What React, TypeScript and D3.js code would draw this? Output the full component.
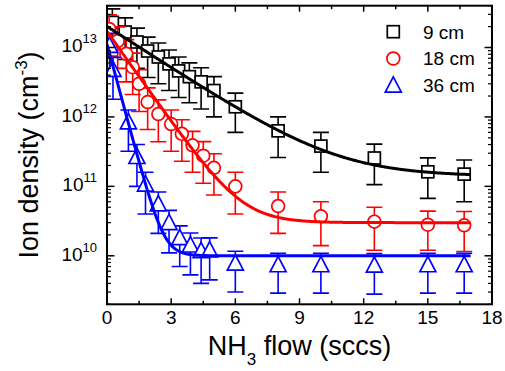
import React from 'react';
import * as d3 from 'd3';

// ---------- data ----------
const x9 = [0.25, 0.85, 1.4, 1.9, 2.4, 2.9, 3.35, 3.85, 4.4, 5.0, 6, 8, 10, 12.5, 15, 16.7];
const n9 = [2.3e13, 1.67e13, 1.2e13, 8.9e12, 7.3e12, 5.8e12, 4.6e12, 3.8e12, 3.2e12, 2.4e12, 1.4e12, 6.3e11, 3.8e11, 2.56e11, 1.62e11, 1.5e11];
const e9 = [1.3e13, 1.0e13, 7e12, 5.2e12, 4.3e12, 3.4e12, 2.7e12, 2.2e12, 1.9e12, 1.4e12, 8e11, 3.7e11, 2.2e11, 1.5e11, 9.5e10, 9e10];

const x18 = [0.1, 0.5, 0.9, 1.2, 1.5, 1.9, 2.4, 3.0, 3.5, 4.0, 4.5, 5.0, 6, 8, 10, 12.5, 15, 16.7];
const n18 = [1.85e13, 1.24e13, 8.1e12, 5.2e12, 3.0e12, 1.64e12, 1.1e12, 7.9e11, 5.7e11, 3.9e11, 2.76e11, 1.85e11, 1.0e11, 5.2e10, 3.7e10, 3.1e10, 2.8e10, 2.75e10];
const e18 = [1.1e13, 7.4e12, 4.9e12, 3.1e12, 1.8e12, 9.8e11, 6.6e11, 4.7e11, 3.4e11, 2.3e11, 1.65e11, 1.1e11, 6e10, 3.1e10, 2.3e10, 1.9e10, 1.6e10, 1.6e10];

const x36 = [0.12, 0.28, 1.0, 1.4, 1.8, 2.4, 2.9, 3.4, 3.9, 4.4, 4.8, 6, 8, 10, 12.5, 15, 16.7];
const n36 = [1.0e13, 4.5e12, 7.9e11, 2.5e11, 1.0e11, 5.2e10, 2.8e10, 1.7e10, 1.33e10, 1.1e10, 1.13e10, 7.3e9, 6.9e9, 6.9e9, 6.8e9, 6.9e9, 6.9e9];
const e36 = [6e12, 2.7e12, 4.7e11, 1.5e11, 6e10, 3.1e10, 1.7e10, 1.0e10, 8e9, 7e9, 6.8e9, 4.3e9, 4.0e9, 4.0e9, 4.0e9, 4.0e9, 4.0e9];

// exponential-decay fit parameters: n = A*exp(-x/tau) + C
const fitA = [2.0e13, 1.7e13, 1.12e13];
const fitTau = [2.17, 1.0, 0.38];
const fitC = [1.4e11, 3.0e10, 1.0e10];
const fitXMax = 17;

const seriesLabels = ['9 cm', '18 cm', '36 cm'];
const seriesColors = ['#000000', '#ff0000', '#0000ff'];
const seriesShapes = ['square', 'circle', 'triangle'];

const xTicks = [0, 3, 6, 9, 12, 15, 18];
const yTickExps = [10, 11, 12, 13];

const FONT = '"Liberation Sans", Arial, Helvetica, sans-serif';

const left = 107, right = 492, top = 5.7, bottom = 304.3;

function Marker({ shape, color, cx, cy }: { shape: string; color: string; cx: number; cy: number }) {
  const sw = 1.7;
  if (shape === 'square') {
    return <rect x={cx - 6} y={cy - 6} width={12} height={12} fill="#fff" stroke={color} strokeWidth={sw} />;
  }
  if (shape === 'circle') {
    return <circle cx={cx} cy={cy} r={6.4} fill="#fff" stroke={color} strokeWidth={sw} />;
  }
  const p = `M${cx},${cy - 10.5} L${cx + 8},${cy + 4.8} L${cx - 8},${cy + 4.8} Z`;
  return <path d={p} fill="#fff" stroke={color} strokeWidth={sw} strokeLinejoin="miter" />;
}

export default function App() {
  const xs = d3.scaleLinear().domain([0, 18]).range([left, right]);
  const ys = d3.scaleLog().domain([2e9, 4e13]).range([bottom, top]);

  const series = [
    { x: x9, n: n9, e: e9 },
    { x: x18, n: n18, e: e18 },
    { x: x36, n: n36, e: e36 },
  ];

  const line = d3.line<[number, number]>().x(d => xs(d[0])).y(d => ys(d[1]));
  const fitPaths = fitA.map((A, i) => {
    const pts: [number, number][] = d3.range(0, fitXMax + 0.001, 0.05).map(x => [x, A * Math.exp(-x / fitTau[i]) + fitC[i]]);
    return line(pts) || '';
  });

  const xMinor = d3.range(1.5, 18, 3);
  const yMinor: number[] = [];
  for (let ex = 9; ex <= 13; ex++) {
    for (let m = 1; m <= 9; m++) {
      const v = m * Math.pow(10, ex);
      if (v >= 2e9 && v <= 4e13 && m !== 1) yMinor.push(v);
    }
  }

  const capW = 8;

  return (
    <svg width={505} height={371} style={{ position: 'absolute', left: 0, top: 0, background: '#fff' }} fontFamily={FONT}>
      <defs>
        <clipPath id="plotclip">
          <rect x={left} y={top} width={right - left} height={bottom - top} />
        </clipPath>
      </defs>

      <g clipPath="url(#plotclip)">
        {series.map((s, si) => (
          <g key={si}>
            {s.x.map((xv, i) => {
              const cx = xs(xv);
              const yt = ys(s.n[i] + s.e[i]);
              const yb = ys(Math.max(s.n[i] - s.e[i], 1e8));
              return (
                <g key={i} stroke={seriesColors[si]} strokeWidth={1.6} fill="none">
                  <line x1={cx} x2={cx} y1={yt} y2={yb} />
                  <line x1={cx - capW} x2={cx + capW} y1={yt} y2={yt} />
                  <line x1={cx - capW} x2={cx + capW} y1={yb} y2={yb} />
                </g>
              );
            })}
            {s.x.map((xv, i) => (
              <Marker key={'m' + i} shape={seriesShapes[si]} color={seriesColors[si]} cx={xs(xv)} cy={ys(s.n[i])} />
            ))}
          </g>
        ))}
        {fitPaths.map((d, i) => (
          <path key={i} d={d} fill="none" stroke={seriesColors[i]} strokeWidth={3} />
        ))}
      </g>

      {/* frame */}
      <rect x={left} y={top} width={right - left} height={bottom - top} fill="none" stroke="#000" strokeWidth={2} />

      {/* x ticks */}
      {xTicks.map(t => (
        <g key={'xt' + t} stroke="#000" strokeWidth={1.5}>
          <line x1={xs(t)} x2={xs(t)} y1={bottom} y2={bottom - 6} />
          <line x1={xs(t)} x2={xs(t)} y1={top} y2={top + 6} />
        </g>
      ))}
      {xMinor.map(t => (
        <g key={'xm' + t} stroke="#000" strokeWidth={1.5}>
          <line x1={xs(t)} x2={xs(t)} y1={bottom} y2={bottom - 3.5} />
          <line x1={xs(t)} x2={xs(t)} y1={top} y2={top + 3.5} />
        </g>
      ))}
      {xTicks.map(t => (
        <text key={'xl' + t} x={xs(t)} y={323.5} textAnchor="middle" fontSize={19} fill="#000">{t}</text>
      ))}

      {/* y ticks */}
      {yTickExps.map(e => {
        const y = ys(Math.pow(10, e));
        return (
          <g key={'yt' + e} stroke="#000" strokeWidth={1.5}>
            <line x1={left} x2={left + 7.5} y1={y} y2={y} />
            <line x1={right} x2={right - 7.5} y1={y} y2={y} />
          </g>
        );
      })}
      {yMinor.map((v, i) => {
        const y = ys(v);
        return (
          <g key={'ym' + i} stroke="#000" strokeWidth={1.2}>
            <line x1={left} x2={left + 4} y1={y} y2={y} />
            <line x1={right} x2={right - 4} y1={y} y2={y} />
          </g>
        );
      })}
      {yTickExps.map(e => {
        const y = ys(Math.pow(10, e));
        return (
          <text key={'yl' + e} x={97} y={y + 5} textAnchor="end" fontSize={19} fill="#000">
            10<tspan dy={-9} fontSize={13}>{e}</tspan>
          </text>
        );
      })}

      {/* axis titles */}
      <text x={(left + right) / 2} y={355} textAnchor="middle" fontSize={27} fill="#000">
        NH<tspan dy={10} fontSize={17}>3</tspan><tspan dy={-10}> flow (sccs)</tspan>
      </text>
      <text transform={`translate(37.5, ${(top + bottom) / 2}) rotate(-90)`} textAnchor="middle" fontSize={27} fill="#000">
        Ion density (cm<tspan dy={-11} fontSize={17}>-3</tspan><tspan dy={11}>)</tspan>
      </text>

      {/* legend */}
      {seriesLabels.map((lab, i) => {
        const ry = 31.7 + i * 26.8;
        return (
          <g key={'lg' + i}>
            <Marker shape={seriesShapes[i]} color={seriesColors[i]} cx={393.3} cy={ry + (seriesShapes[i] === 'triangle' ? 2 : 0)} />
            <text x={423} y={ry + 6.8} fontSize={19} fill="#000">{lab}</text>
          </g>
        );
      })}
    </svg>
  );
}
